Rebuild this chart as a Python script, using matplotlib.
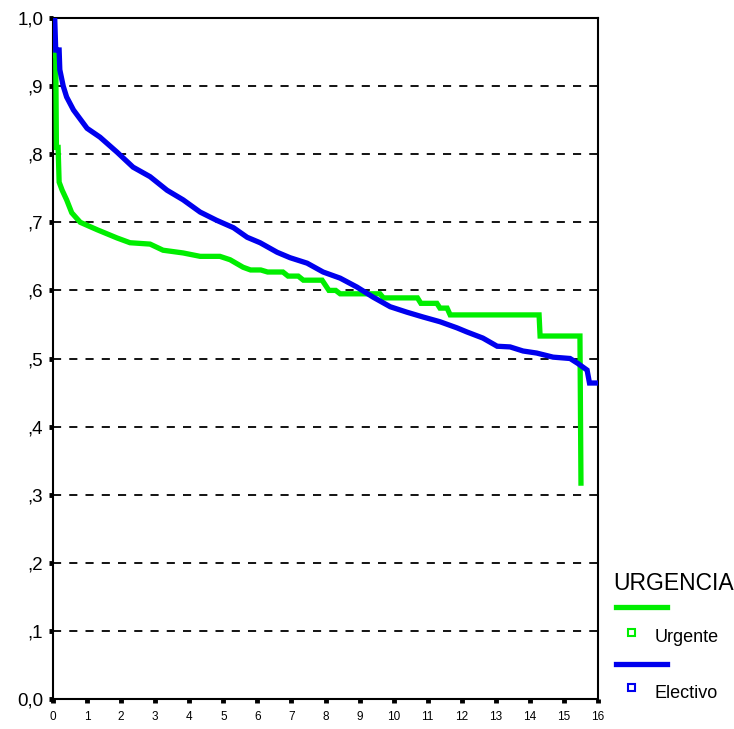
import matplotlib
matplotlib.use("Agg")
import matplotlib.pyplot as plt
from matplotlib.lines import Line2D
from matplotlib.patches import Rectangle

# Urgente (green) survival curve vertices
urg_t = [0, 0.03, 0.08, 0.1, 0.15, 0.18, 0.27, 0.4, 0.55, 0.8, 1.3, 1.88, 2.26,
         2.85, 3.23, 3.82, 4.32, 4.9, 5.2, 5.58, 5.8, 6.1, 6.3, 6.75, 6.9, 7.2, 7.35,
         7.9, 8.1, 8.3, 8.43, 9.6, 9.7, 10.7, 10.8, 11.27, 11.36, 11.57, 11.66, 14.27,
         14.3, 15.47, 15.5]
urg_s = [1.0, 0.946, 0.946, 0.81, 0.81, 0.759, 0.747, 0.733, 0.714, 0.700, 0.689,
         0.677, 0.670, 0.668, 0.659, 0.655, 0.650, 0.650, 0.645, 0.634, 0.630, 0.630,
         0.627, 0.627, 0.621, 0.621, 0.615, 0.615, 0.600, 0.600, 0.595, 0.595, 0.589,
         0.589, 0.581, 0.581, 0.574, 0.574, 0.564, 0.564, 0.533, 0.533, 0.317]

# Electivo (blue) survival curve vertices
ele_t = [0, 0.05, 0.08, 0.18, 0.2, 0.3, 0.4, 0.6, 1.0, 1.38, 1.88, 2.35, 2.85, 3.35, 3.82,
         4.32, 4.8, 5.3, 5.7, 6.08, 6.58, 6.96, 7.46, 7.93, 8.43, 8.92, 9.4, 9.9, 10.39,
         10.86, 11.36, 11.86, 12.15, 12.62, 13.04, 13.42, 13.8, 14.2, 14.68, 15.18,
         15.4, 15.68, 15.75, 16.0]
ele_s = [1.0, 1.0, 0.953, 0.953, 0.924, 0.90, 0.884, 0.865, 0.838, 0.825, 0.803, 0.781,
         0.767, 0.747, 0.733, 0.715, 0.703, 0.692, 0.678, 0.670, 0.656, 0.648, 0.640,
         0.627, 0.618, 0.605, 0.590, 0.576, 0.568, 0.561, 0.554, 0.545, 0.539, 0.530,
         0.518, 0.517, 0.511, 0.508, 0.502, 0.500, 0.493, 0.483, 0.464, 0.464]

x_ticks = list(range(0, 17))
y_ticks = [0.0, 0.1, 0.2, 0.3, 0.4, 0.5, 0.6, 0.7, 0.8, 0.9, 1.0]
y_labels = ["0,0", ",1", ",2", ",3", ",4", ",5", ",6", ",7", ",8", ",9", "1,0"]
groups = ["Urgente", "Electivo"]
colors = ["#00ee00", "#0000ee"]

W, H = 734, 729
fig = plt.figure(figsize=(W / 100, H / 100), dpi=100)
ax = fig.add_axes([53 / W, 1 - 699 / H, (598 - 53) / W, (699 - 18) / H])

for yv in y_ticks[1:-1]:
    ax.axhline(yv, color="black", lw=1.3, ls=(0, (4.5, 4.5)), zorder=1)

ax.plot(urg_t, urg_s, color=colors[0], lw=3.8, solid_joinstyle="miter", zorder=3)
ax.plot(ele_t, ele_s, color=colors[1], lw=3.8, solid_joinstyle="miter", zorder=4)

ax.set_xlim(0, 16)
ax.set_ylim(0, 1.0)
ax.set_xticks(x_ticks)
ax.set_xticklabels([str(v) for v in x_ticks], fontsize=8.5,
                   family=["Liberation Sans Narrow", "Liberation Sans", "DejaVu Sans"])
ax.set_yticks(y_ticks)
ax.set_yticklabels(y_labels, fontsize=13.5, family=["Liberation Sans", "DejaVu Sans"])
ax.tick_params(axis="both", direction="out", length=3, width=3.5, color="black")
ax.tick_params(axis="x", pad=6)
ax.tick_params(axis="y", pad=4)
for sp in ax.spines.values():
    sp.set_linewidth(1.5)
    sp.set_color("black")

# legend (manual, SPSS style)
def fx(px):
    return px / W

def fy(py):
    return 1 - py / H

fam = ["Liberation Sans", "DejaVu Sans"]
fig.text(fx(613), fy(583), "URGENCIA", fontsize=16.5, family=fam, va="center", ha="left")
for i, (g, c) in enumerate(zip(groups, colors)):
    ly = 607 + i * 57
    fig.add_artist(Line2D([fx(616), fx(667)], [fy(ly), fy(ly)], color=c, lw=3.8,
                          transform=fig.transFigure))
    sy = 632 + i * 55
    fig.add_artist(Rectangle((fx(627.5), fy(sy + 3.5)), 7 / W, 7 / H, fill=False,
                             edgecolor=c, lw=1.5, transform=fig.transFigure))
    fig.text(fx(655), fy(sy + 6), g, fontsize=13, family=fam, va="center", ha="left")

fig.savefig("out.png", dpi=100)
